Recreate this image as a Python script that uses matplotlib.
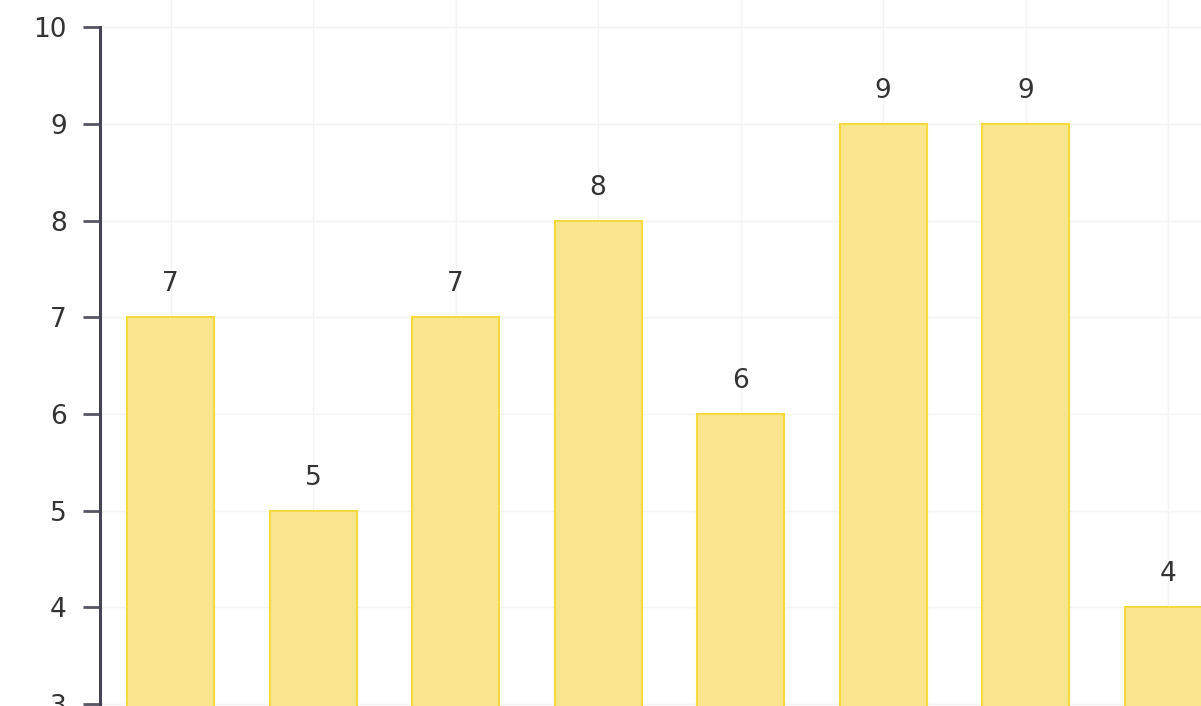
import matplotlib
matplotlib.use("Agg")
import matplotlib.pyplot as plt
import numpy as np

# values
categories = ["A", "B", "C", "D", "E", "F", "G", "H"]
values = [7, 5, 7, 8, 6, 9, 9, 4]
yticks = [3, 4, 5, 6, 7, 8, 9, 10]

plt.rcParams['font.family'] = ['DejaVu Sans']

fig = plt.figure(figsize=(12.01, 7.06), dpi=100)
ax = fig.add_axes([100 / 1201, 0, 1 - 100 / 1201, 1])

x = np.arange(len(categories))
bars = ax.bar(x, values, width=0.61, color="#fbe68f", edgecolor="#f6d93c",
              linewidth=1.5, zorder=2)

for xi, v in zip(x, values):
    ax.text(xi, v + 0.34, str(v), ha="center", va="center",
            fontsize=19, color="#333333", zorder=3)

ax.set_xlim(-0.495, 7.23)
ax.set_ylim(2.98, 10.28)
ax.set_yticks(yticks)
ax.set_xticks(x)
ax.tick_params(axis="x", length=0, labelbottom=False)
ax.tick_params(axis="y", length=12, width=2, color="#555566", pad=12,
               labelsize=19, labelcolor="#333333")

ax.grid(True, color="#f3f3f3", linewidth=1, zorder=0)

for side in ["top", "right", "bottom"]:
    ax.spines[side].set_visible(False)
ax.spines["left"].set_color("#444455")
ax.spines["left"].set_linewidth(2.2)
ax.spines["left"].set_bounds(2.98, 10)

fig.savefig("out.png", dpi=100)
